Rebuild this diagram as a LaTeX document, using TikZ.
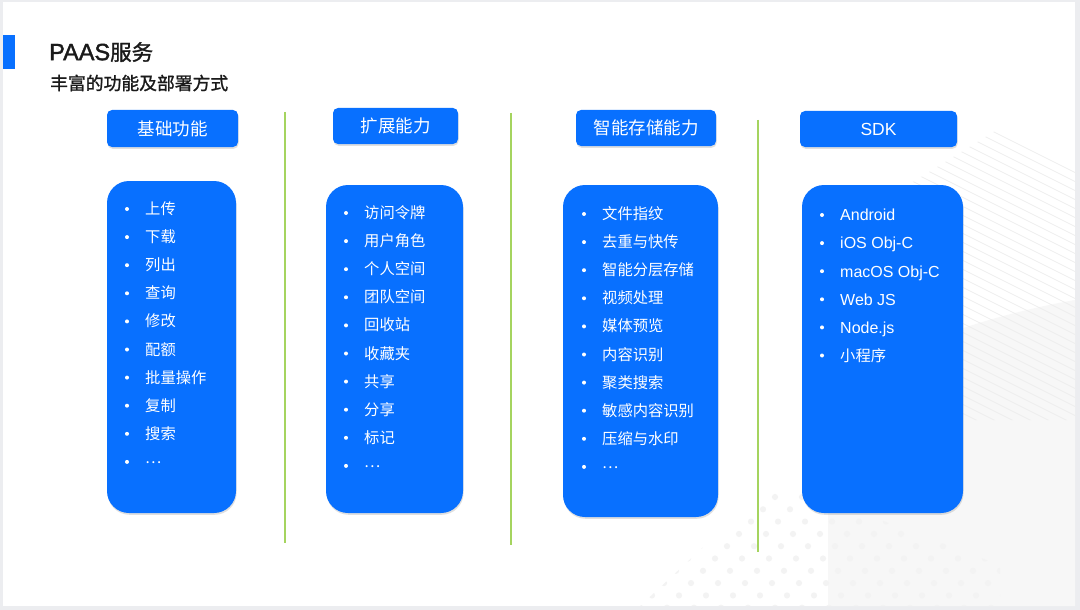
\documentclass[tikz,border=0pt]{standalone}
\usepackage{fontspec}
\setmainfont{Noto Sans CJK SC}
\newfontfamily\cjkb[FakeBold=1.3]{Noto Sans CJK SC}
\newfontfamily\lat{Liberation Sans}
\newfontfamily\latb[FakeBold=1.6]{Liberation Sans}
\usetikzlibrary{shadows}
\definecolor{pblue}{RGB}{8,112,255}
\definecolor{pgreen}{RGB}{165,212,95}
\definecolor{frame}{RGB}{236,237,240}
\definecolor{ink}{RGB}{26,26,26}
\definecolor{bggray}{RGB}{247,247,247}
\definecolor{stripe}{RGB}{238,238,238}
\definecolor{dotgray}{RGB}{243,243,243}
\begin{document}
\begin{tikzpicture}[x=1pt,y=-1pt,
  hdr/.style={fill=pblue, rounded corners=5pt, text=white,
    drop shadow={opacity=.25, shadow xshift=.6pt, shadow yshift=-1.8pt},
    font=\fontsize{17.5}{20}\selectfont, inner sep=0pt},
  card/.style={fill=pblue, rounded corners=22pt,
    drop shadow={opacity=.25, shadow xshift=.6pt, shadow yshift=-1.8pt}, inner sep=0pt},
  item/.style={anchor=base west, text=white, font=\fontsize{15.3}{18}\selectfont, inner sep=0pt},
  latitem/.style={item, font=\lat\fontsize{16}{18}\selectfont},
  bul/.style={circle, fill=white, inner sep=0pt, minimum size=4pt},
  divider/.style={draw=pgreen, line width=1.3pt}]
\useasboundingbox (0,0) rectangle (1080,610);
% frame and page
\fill[frame] (0,0) rectangle (1080,610);
\fill[white] (3,2) rectangle (1075,606);
% background decorations
\fill[bggray] (828,606) -- (828,390) .. controls (900,345) and (990,315) .. (1075,300) -- (1075,606) -- cycle;
\begin{scope}
  \clip (1045,100) -- (1075,100) -- (1075,420) -- (900,420) -- (900,190) -- cycle;
  \foreach \k in {0,...,60} {
    \draw[stripe, line width=.7pt] (850,60+9*\k) -- (1080,60+9*\k+115);
  }
\end{scope}
\begin{scope}
  \clip (775,480) -- (640,606) -- (1000,606) -- (1000,565) -- cycle;
  \foreach \r in {0,...,10} {
    \foreach \k in {-2,...,12} {
      \fill[dotgray] ({775-12*\r+27*\k},{497+12.3*\r}) circle (3.1pt);
    }
  }
\end{scope}
% title
\fill[pblue] (3,35) rectangle (15,69);
\node[anchor=west, text=ink, inner sep=0pt] (title) at (49,52) {\latb\fontsize{23.5}{24}\selectfont PAAS\cjkb\fontsize{21.5}{24}\selectfont 服务};
\node[anchor=west, text=ink, inner sep=0pt, font=\cjkb\fontsize{17.8}{20}\selectfont] (subtitle) at (50,83) {丰富的功能及部署方式};
% dividers
\draw[divider] (285,112) -- (285,543);
\draw[divider] (511,113) -- (511,545);
\draw[divider] (758,120) -- (758,552);
% headers
\node[hdr, minimum width=131pt, minimum height=37pt] (h1) at (172.5,128.5) {基础功能};
\node[hdr, minimum width=125pt, minimum height=36pt] (h2) at (395.5,126) {扩展能力};
\node[hdr, minimum width=140pt, minimum height=36pt] (h3) at (646,128) {智能存储能力};
\node[hdr, minimum width=157pt, minimum height=36pt, font=\lat\fontsize{17.5}{20}\selectfont] (h4) at (878.5,129) {SDK};
% cards
\node[card, minimum width=129pt, minimum height=332pt] (c1) at (171.5,347) {};
\node[card, minimum width=137pt, minimum height=328pt] (c2) at (394.5,349) {};
\node[card, minimum width=155pt, minimum height=332pt] (c3) at (640.5,351) {};
\node[card, minimum width=161pt, minimum height=328pt] (c4) at (882.5,349) {};
% items
\foreach \t [count=\i] in {上传,下载,列出,查询,修改,配额,批量操作,复制,搜索} {
  \node[bul] (b1-\i) at (127,{209+28.1*(\i-1)}) {};
  \node[item] (t1-\i) at (145,{209+28.1*(\i-1)+5.5}) {\t};
}
\node[bul] (b1-10) at (127,{209+28.1*9}) {};
\node[item] (t1-10) at (145,{209+28.1*9+1.5}) {…};
\foreach \t [count=\i] in {访问令牌,用户角色,个人空间,团队空间,回收站,收藏夹,共享,分享,标记} {
  \node[bul] (b2-\i) at (346,{213+28.1*(\i-1)}) {};
  \node[item] (t2-\i) at (364,{213+28.1*(\i-1)+5.5}) {\t};
}
\node[bul] (b2-10) at (346,{213+28.1*9}) {};
\node[item] (t2-10) at (364,{213+28.1*9+1.5}) {…};
\foreach \t [count=\i] in {文件指纹,去重与快传,智能分层存储,视频处理,媒体预览,内容识别,聚类搜索,敏感内容识别,压缩与水印} {
  \node[bul] (b3-\i) at (584,{214+28.1*(\i-1)}) {};
  \node[item] (t3-\i) at (602,{214+28.1*(\i-1)+5.5}) {\t};
}
\node[bul] (b3-10) at (584,{214+28.1*9}) {};
\node[item] (t3-10) at (602,{214+28.1*9+1.5}) {…};
\foreach \t [count=\i] in {Android,iOS Obj-C,macOS Obj-C,Web JS,Node.js} {
  \node[bul] (b4-\i) at (822,{215+28.1*(\i-1)}) {};
  \node[latitem] (t4-\i) at (840,{215+28.1*(\i-1)+5.8}) {\t};
}
\node[bul] (b4-6) at (822,{215+28.1*5}) {};
\node[item] (t4-6) at (840,{215+28.1*5+5.5}) {小程序};
\end{tikzpicture}
\end{document}
